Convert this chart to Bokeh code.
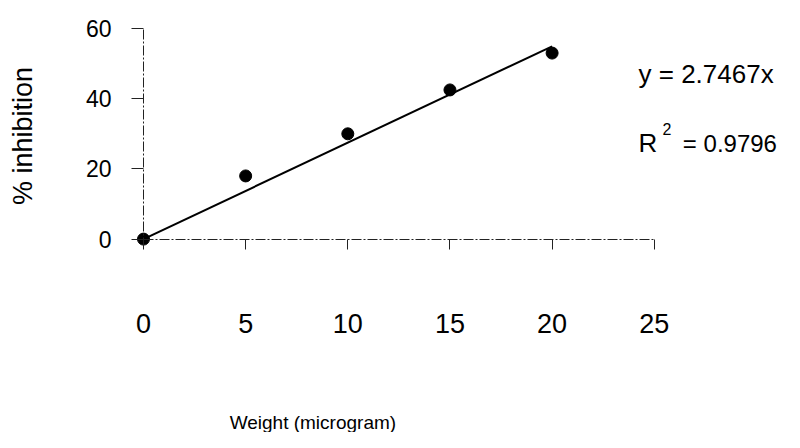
import math
from bokeh.plotting import figure
from bokeh.models import Range1d, FixedTicker, Label
from bokeh.embed import file_html
from bokeh.resources import INLINE

# ---- data ----
weight = [0, 5, 10, 15, 20]            # microgram
inhibition = [0, 18, 30, 42.5, 53]     # % inhibition
fit_x = [0, 20]                        # trend line y = 2.7467x
fit_y = [0, 54.93]
x_ticks = [0, 5, 10, 15, 20, 25]
y_ticks = [0, 20, 40, 60]
equation_text = "y = 2.7467x"
r2_text = "= 0.9796"

FONT = "Liberation Sans"
AXIS_COLOR = "#222222"

p = figure(width=784, height=432, output_backend="svg", toolbar_location=None,
           x_range=Range1d(-7.0, 31.375), y_range=Range1d(-55.10, 67.98),
           min_border_left=0, min_border_right=0, min_border_top=0, min_border_bottom=0)
p.outline_line_color = None
p.xgrid.visible = False
p.ygrid.visible = False
p.background_fill_color = "white"
p.border_fill_color = "white"

xa = p.xaxis[0]
xa.fixed_location = 0
xa.bounds = (0, 25)
xa.ticker = FixedTicker(ticks=x_ticks)
xa.major_tick_out = 10
xa.major_tick_in = 0
xa.minor_tick_out = 0
xa.minor_tick_in = 0
xa.axis_line_color = AXIS_COLOR
xa.axis_line_width = 1
xa.axis_line_dash = "10 2 2 2"
xa.major_tick_line_color = AXIS_COLOR
xa.major_label_text_font = FONT
xa.major_label_text_font_size = "27px"
xa.major_label_text_color = "black"
xa.major_label_standoff = 65

ya = p.yaxis[0]
ya.fixed_location = 0
ya.bounds = (-2.5, 60)
ya.ticker = FixedTicker(ticks=y_ticks)
ya.major_tick_out = 12
ya.major_tick_in = 0
ya.minor_tick_out = 0
ya.minor_tick_in = 0
ya.axis_line_color = AXIS_COLOR
ya.axis_line_width = 1
ya.axis_line_dash = "10 2 2 2"
ya.major_tick_line_color = AXIS_COLOR
ya.major_label_text_font = FONT
ya.major_label_text_font_size = "23px"
ya.major_label_text_color = "black"
ya.major_label_standoff = 20

p.line(fit_x, fit_y, line_color="black", line_width=2)
p.scatter(weight, inhibition, size=12, color="black")

# axis titles
p.add_layout(Label(x=8.29, y=-52.3, text="Weight (microgram)", text_font=FONT,
                   text_font_size="19px", text_align="center",
                   text_baseline="alphabetic", text_color="black"))
p.add_layout(Label(x=-5.92, y=29.4, text="% inhibition", text_font=FONT,
                   text_font_size="27px", text_align="center",
                   text_baseline="middle", angle=math.pi / 2, text_color="black"))

# regression annotations
p.add_layout(Label(x=24.23, y=47.18, text=equation_text, text_font=FONT,
                   text_font_size="26px", text_align="left",
                   text_baseline="alphabetic", text_color="black"))
p.add_layout(Label(x=24.23, y=27.24, text="R", text_font=FONT,
                   text_font_size="26px", text_align="left",
                   text_baseline="alphabetic", text_color="black"))
p.add_layout(Label(x=25.40, y=31.5, text="2", text_font=FONT,
                   text_font_size="16px", text_align="left",
                   text_baseline="alphabetic", text_color="black"))
p.add_layout(Label(x=26.40, y=27.24, text=r2_text, text_font=FONT,
                   text_font_size="24px", text_align="left",
                   text_baseline="alphabetic", text_color="black"))

open("out.html", "w").write(file_html(p, INLINE))
